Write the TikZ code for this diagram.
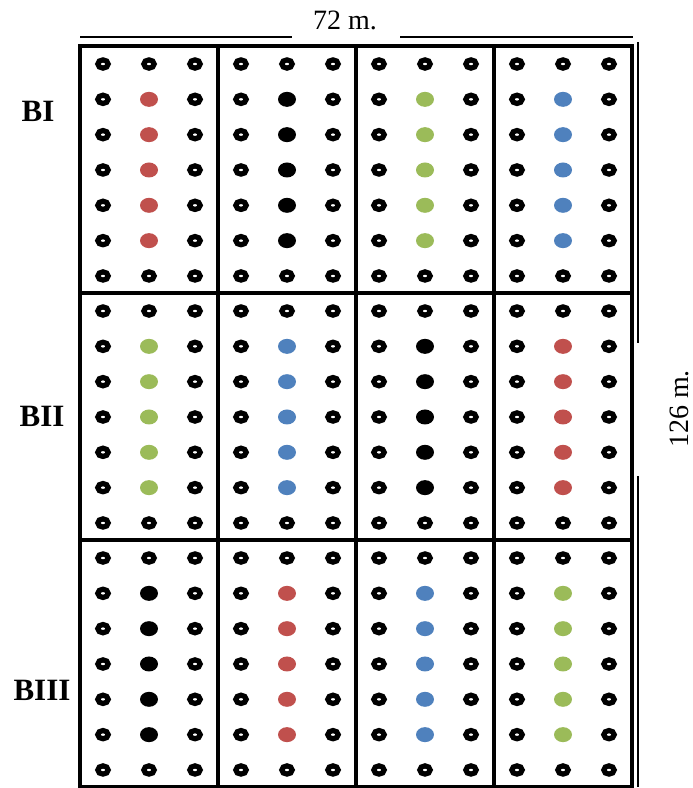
\documentclass[tikz,border=0pt]{standalone}
\usepackage{fontspec}
\setmainfont{Liberation Serif}
\usetikzlibrary{positioning}
\definecolor{TrtRed}{HTML}{C0504D}
\definecolor{TrtGreen}{HTML}{9BBB59}
\definecolor{TrtBlue}{HTML}{4F81BD}
\colorlet{TrtBlack}{black}

\begin{document}
\begin{tikzpicture}[x=1pt,y=-1pt,
  plant/.style={draw=black, line width=5.2pt},
  frame/.style={line width=4.2pt},
  blk/.style={font=\fontsize{31}{31}\selectfont\bfseries, inner sep=0pt},
  dimtxt/.style={font=\fontsize{28}{28}\selectfont, inner sep=0pt},
  dimline/.style={line width=2.3pt}]
  \useasboundingbox (0,0) rectangle (693,788);
  % plots: one treatment per column of each block
  \foreach \r/\cols in {0/{TrtRed,TrtBlack,TrtGreen,TrtBlue},
                        1/{TrtGreen,TrtBlue,TrtBlack,TrtRed},
                        2/{TrtBlack,TrtRed,TrtBlue,TrtGreen}} {
    \foreach \col [count=\c from 0] in \cols {
      \foreach \i in {0,1,2}
        \foreach \j in {0,...,6} {
          \pgfmathsetmacro\px{80+138*\c+23+46*\i}
          \pgfmathsetmacro\py{46+247*\r+18+35.33*\j}
          \pgfmathtruncatemacro\inplot{(\i==1)&&(\j>0)&&(\j<6)}
          \ifnum\inplot=1
            \fill[\col] (\px,\py) ellipse [x radius=9, y radius=7.5];
          \else
            \draw[plant] (\px,\py) ellipse [x radius=5.2, y radius=4.1];
          \fi
        }
    }
  }
  % field frame
  \draw[frame] (80,46) rectangle (632,787);
  \foreach \x in {218,356,494}
    \draw[frame] (\x,46) -- (\x,787);
  \foreach \y in {293,540}
    \draw[frame] (80,\y) -- (632,\y);
  % block labels
  \node[blk] (b1) at (38,111) {BI};
  \node[blk] (b2) at (42,416) {BII};
  \node[blk] (b3) at (42,690) {BIII};
  % dimensions
  \node[dimtxt] (width) at (345,20) {72 m.};
  \coordinate (wl) at (80,37);
  \coordinate (wla) at (292,37);
  \coordinate (wra) at (400,37);
  \coordinate (wr) at (633,37);
  \draw[dimline] (wl) -- (wla) (wra) -- (wr);
  \node[dimtxt, rotate=90] (height) at (679,409) {126 m.};
  \coordinate (ht) at (638,42);
  \coordinate (hta) at (638,343);
  \coordinate (hba) at (638,476);
  \coordinate (hb) at (638,787);
  \draw[dimline] (ht) -- (hta) (hba) -- (hb);
\end{tikzpicture}
\end{document}
